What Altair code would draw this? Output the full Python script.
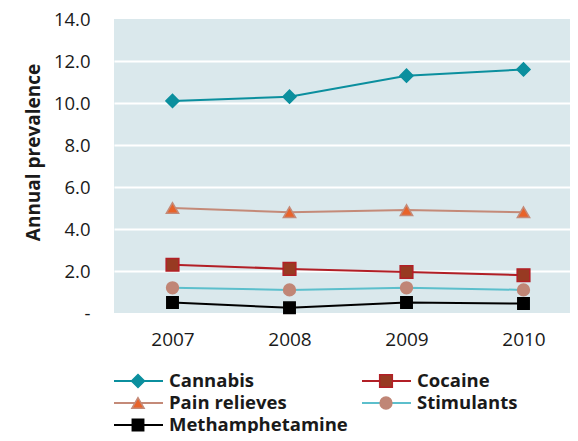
import altair as alt
import pandas as pd

years = ["2007", "2008", "2009", "2010"]
series = ["Cannabis", "Cocaine", "Pain relieves", "Stimulants", "Methamphetamine"]
cannabis = [10.1, 10.3, 11.3, 11.6]
cocaine = [2.3, 2.1, 1.95, 1.8]
pain_relieves = [5.0, 4.8, 4.9, 4.8]
stimulants = [1.2, 1.1, 1.2, 1.1]
methamphetamine = [0.5, 0.25, 0.5, 0.45]
y_ticks = [0, 2, 4, 6, 8, 10, 12, 14]

legend_col = [0, 1, 0, 1, 0]
legend_row = [0, 0, 1, 1, 2]

line_colors = ["#0b8f9e", "#b21f26", "#c48a78", "#5cbfcc", "#000000"]
fill_colors = ["#0b8f9e", "#983a22", "#e8632a", "#c08676", "#000000"]
stroke_colors = ["#0b8f9e", "#b21f26", "#c48a78", "#c08676", "#000000"]
shapes = ["diamond", "square", "triangle-up", "circle", "square"]
sizes = [170, 130, 190, 130, 130]

FONT = "Open Sans"

values = {"Cannabis": cannabis, "Cocaine": cocaine, "Pain relieves": pain_relieves,
          "Stimulants": stimulants, "Methamphetamine": methamphetamine}
rows = []
for s in series:
    for y, v in zip(years, values[s]):
        rows.append({"series": s, "year": y, "value": v})
df = pd.DataFrame(rows)
leg = pd.DataFrame({"series": series, "col": legend_col, "row": legend_row})

color_sc = alt.Scale(domain=series, range=line_colors)
fill_sc = alt.Scale(domain=series, range=fill_colors)
stroke_sc = alt.Scale(domain=series, range=stroke_colors)
shape_sc = alt.Scale(domain=series, range=shapes)
size_sc = alt.Scale(domain=series, range=sizes)

x_scale = alt.Scale(range=[0, 468])
x_enc = alt.X("year:O", title=None, sort=years, scale=x_scale,
              axis=alt.Axis(labelAngle=0, labelFontSize=19, labelFont=FONT, labelColor="#1a1a1a",
                            domain=False, ticks=False, labelPadding=17, grid=False))
y_enc = alt.Y("value:Q", title="Annual prevalence",
              scale=alt.Scale(domain=[0, 14], nice=False, zero=True),
              axis=alt.Axis(values=y_ticks, domain=False, ticks=False,
                            labelExpr="datum.value == 0 ? '-' : format(datum.value, '.1f')",
                            labelFontSize=18.5, labelFont=FONT, labelColor="#1a1a1a", labelPadding=24,
                            titleFont=FONT, titleFontSize=19, titleFontWeight="bold", titleColor="#1a1a1a",
                            titlePadding=10, titleY=133,
                            gridColor="white", gridWidth=2,
                            gridOpacity={"condition": {"test": "datum.value == 0 || datum.value == 14", "value": 0}, "value": 1}))

lines = alt.Chart(df).mark_line(strokeWidth=2).encode(
    x=x_enc, y=y_enc,
    color=alt.Color("series:N", scale=color_sc, legend=None),
    detail="series:N",
)
points = alt.Chart(df).mark_point(filled=True, opacity=1, strokeWidth=1.5).encode(
    x=alt.X("year:O", sort=years, scale=x_scale), y="value:Q",
    shape=alt.Shape("series:N", scale=shape_sc, legend=None),
    fill=alt.Fill("series:N", scale=fill_sc, legend=None),
    stroke=alt.Stroke("series:N", scale=stroke_sc, legend=None),
    size=alt.Size("series:N", scale=size_sc, legend=None),
)
main = alt.layer(lines, points)

lx = alt.X("col:Q", scale=alt.Scale(domain=[0, 1], range=[0, 248]), axis=None)
ly = alt.Y("row:Q", scale=alt.Scale(domain=[0, 2], range=[362, 406]), axis=None)

leg_rule = alt.Chart(leg).mark_rule(strokeWidth=2, x2Offset=49).encode(
    x=lx, x2=alt.X2("col"), y=ly,
    color=alt.Color("series:N", scale=color_sc, legend=None),
)
leg_pts = alt.Chart(leg).mark_point(filled=True, opacity=1, strokeWidth=1.5, xOffset=24).encode(
    x=lx, y=ly,
    shape=alt.Shape("series:N", scale=shape_sc, legend=None),
    fill=alt.Fill("series:N", scale=fill_sc, legend=None),
    stroke=alt.Stroke("series:N", scale=stroke_sc, legend=None),
    size=alt.Size("series:N", scale=size_sc, legend=None),
)
leg_txt = alt.Chart(leg).mark_text(align="left", baseline="middle", xOffset=55, fontSize=18.5,
                                   fontWeight="bold", font=FONT, color="#1a1a1a").encode(
    x=lx, y=ly, text="series:N",
)
legend = alt.layer(leg_rule, leg_pts, leg_txt)

chart = alt.layer(main, legend).resolve_scale(x="independent", y="independent").properties(
    width=456, height=294,
    autosize=alt.AutoSizeParams(type="none"),
    padding={"left": 106, "top": 11, "right": 0, "bottom": 120},
).configure_view(fill="#dae8ec", stroke=None)

chart.save("out.html", embed_options={"renderer": "svg", "actions": False})
